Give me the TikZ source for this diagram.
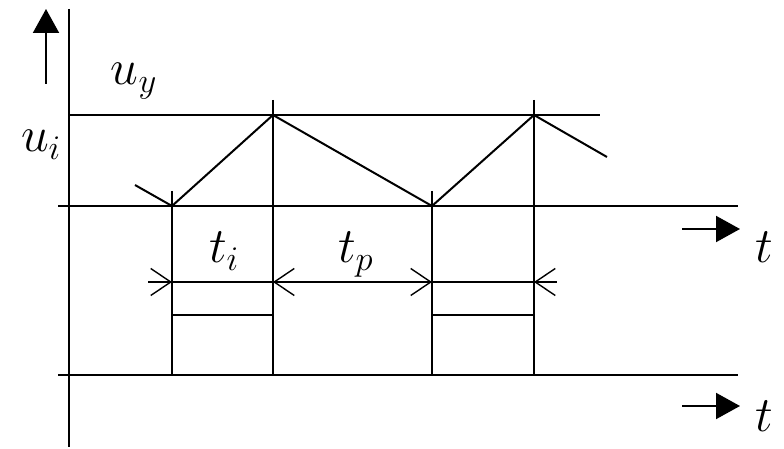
\documentclass[tikz,border=0pt]{standalone}
\usepackage{tikz}
\usetikzlibrary{arrows.meta, positioning}

\tikzset{
    >={Straight Barb[length=10pt,width=13.5pt]},
    bigarrow/.style={-{Triangle[length=12pt,width=13pt]}},
    thin line/.style={line width=0.7pt},
    lbl/.style={font=\fontsize{25}{30}\selectfont, inner sep=0pt, anchor=base west}
}

\begin{document}
\begin{tikzpicture}[x=0.5pt, y=-0.5pt, line width=1pt]
    \useasboundingbox (0,0) rectangle (784,449);

    % axes
    \coordinate (ytop) at (69,9);
    \coordinate (ybot) at (69,447);
    \coordinate (uyl) at (69,115);
    \coordinate (uyr) at (600,115);
    \coordinate (ax1l) at (58,206);
    \coordinate (ax1r) at (738,206);
    \coordinate (ax2l) at (58,375);
    \coordinate (ax2r) at (738,375);
    \draw (ytop) -- (ybot);
    \draw (uyl) -- (uyr);
    \draw (ax1l) -- (ax1r);
    \draw[thin line] (ax2l) -- (ax2r);

    % direction arrows
    \coordinate (up0) at (46,84);
    \coordinate (up1) at (46,9);
    \coordinate (r1a) at (682,229);
    \coordinate (r1b) at (740,229);
    \coordinate (r2a) at (682,406);
    \coordinate (r2b) at (740,406);
    \draw[bigarrow] (up0) -- (up1);
    \draw[bigarrow] (r1a) -- (r1b);
    \draw[bigarrow] (r2a) -- (r2b);

    % sawtooth
    \coordinate (s0) at (135,185);
    \coordinate (lo1) at (172,206);
    \coordinate (hi1) at (273,115);
    \coordinate (lo2) at (432,206);
    \coordinate (hi2) at (534,115);
    \coordinate (s5) at (607,157);
    \draw (s0) -- (lo1) -- (hi1) -- (lo2) -- (hi2) -- (s5);

    % switching instants
    \foreach \x/\y in {172/191, 273/100, 432/191, 534/100}
        \draw (\x,\y) -- (\x,375);

    % pulses
    \coordinate (p0) at (137,375);
    \coordinate (p5) at (602,375);
    \draw (p0) -- (172,375) -- (172,315) -- (273,315) -- (273,375)
        -- (432,375) -- (432,315) -- (534,315) -- (534,375) -- (p5);

    % time spans
    \coordinate (d0) at (148,282);
    \coordinate (d1) at (172,282);
    \coordinate (d2) at (273,282);
    \coordinate (d3) at (432,282);
    \coordinate (d4) at (534,282);
    \coordinate (d5) at (557,282);
    \draw[thin line, ->] (d0) -- (d1);
    \draw[thin line] (d1) -- (d2);
    \draw[thin line, <->] (d2) -- (d3);
    \draw[thin line] (d3) -- (d4);
    \draw[thin line, <-] (d4) -- (d5);

    % labels
    \node[lbl] (uy) at (110,85) {$u_y$};
    \node[lbl] (ui) at (20,152) {$u_i$};
    \node[lbl] (ti) at (208,263) {$t_i$};
    \node[lbl] (tp) at (337,263) {$t_p$};
    \node[lbl] (t1) at (754,263) {$t$};
    \node[lbl] (t2) at (754,432) {$t$};
\end{tikzpicture}
\end{document}
